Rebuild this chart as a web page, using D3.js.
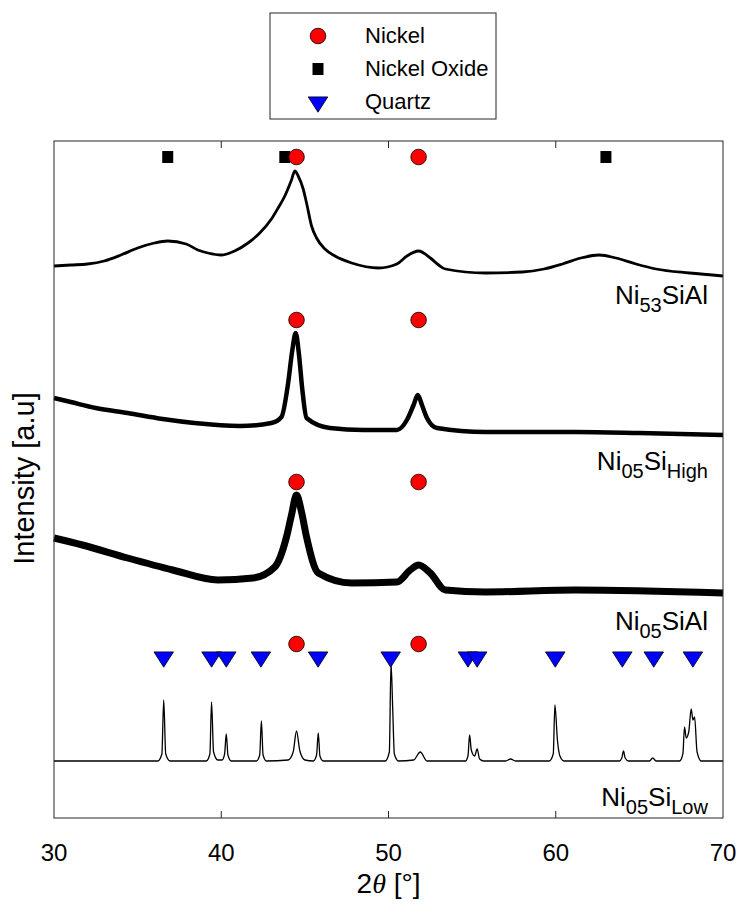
<!DOCTYPE html>
<html lang="en">
<head>
    <meta charset="UTF-8">
    <title>XRD patterns</title>
    <script src="https://cdnjs.cloudflare.com/ajax/libs/d3/7.8.5/d3.min.js"></script>
    <style>
        body { margin: 0; background: #fff; }
        text { font-family: "Liberation Sans", Arial, sans-serif; fill: #000; }
        .frame { fill: none; stroke: #262626; stroke-width: 1; }
        .tick-line { stroke: #262626; stroke-width: 1; }
        .pattern { fill: none; stroke: #000; stroke-linejoin: round; }
    </style>
</head>
<body>
<div id="chart"></div>
<script>
    // 2θ (deg), offset intensity (a.u.)
    const ni53SiAl = [
        [30, 552], [31.0, 553], [32.0, 554], [33.0, 557], [34.0, 563], [35.0, 570], [36.0, 575],
        [36.8, 577], [37.9, 574], [38.6, 568], [39.2, 565], [40.0, 563], [40.8, 567], [41.6, 575],
        [42.3, 585], [43.0, 599], [43.4, 610], [43.8, 622], [44.2, 638], [44.4, 647], [44.6, 642],
        [44.9, 629], [45.1, 615], [45.4, 592], [45.7, 580], [46.2, 569], [46.8, 562], [47.8, 555],
        [49.4, 550], [50.5, 554], [51.1, 562], [51.8, 567], [52.5, 560], [53.0, 553], [53.4, 549],
        [55.8, 545], [58.0, 546], [59.3, 549], [60.4, 554], [61.5, 560], [62.6, 563], [63.6, 560],
        [64.8, 554], [66.0, 549], [68.0, 545], [70, 542]
    ];
    const ni05SiHigh = [
        [30, 420], [31, 416], [32.5, 410], [34.4, 405], [36.5, 399], [38.4, 395], [41.1, 392],
        [43.0, 395], [43.6, 401], [44.0, 435], [44.25, 468], [44.45, 485], [44.65, 463],
        [44.85, 428], [45.1, 400], [46.5, 390], [48.5, 388], [50.5, 388], [51.1, 398], [51.5, 413],
        [51.75, 423], [52.0, 413], [52.3, 400], [52.9, 390], [55.8, 386], [61.2, 386], [65, 385],
        [70, 383]
    ];
    const ni05SiAl = [
        [30, 280], [31.7, 273], [34.4, 260], [37.1, 248], [39.8, 238], [41.9, 240], [43.2, 251],
        [43.9, 281], [44.2, 303], [44.5, 323], [44.8, 306], [45.1, 281], [45.8, 245], [47.8, 235],
        [50.5, 236], [51.3, 248], [51.8, 253], [52.5, 245], [53.4, 228], [55.8, 226], [61.2, 228],
        [70, 225]
    ];
    const ni05SiLow = [
        [30, 57], [36.2, 57], [36.45, 64], [36.56, 118], [36.68, 64], [36.95, 57],
        [39.1, 57], [39.32, 64], [39.42, 116], [39.54, 66], [39.8, 58],
        [40.05, 58], [40.2, 64], [40.3, 84], [40.4, 63], [40.6, 57],
        [42.1, 57], [42.3, 63], [42.4, 97], [42.5, 63], [42.7, 57],
        [44.0, 58], [44.3, 66], [44.5, 87], [44.7, 67], [45.0, 58],
        [45.5, 57], [45.7, 63], [45.8, 85], [45.9, 62], [46.1, 57],
        [49.8, 57], [50.05, 66], [50.15, 155], [50.25, 110], [50.35, 64], [50.6, 57],
        [51.5, 58], [51.9, 66], [52.3, 57],
        [54.6, 57], [54.75, 62], [54.85, 83], [54.95, 68], [55.15, 62], [55.3, 69], [55.45, 59], [55.7, 57],
        [57.0, 57], [57.3, 59], [57.6, 57],
        [59.6, 57], [59.85, 64], [59.95, 113], [60.1, 78], [60.25, 62], [60.5, 57],
        [63.8, 57], [63.95, 60], [64.05, 67], [64.15, 60], [64.35, 57],
        [65.6, 57], [65.8, 60], [66.0, 57],
        [67.4, 57], [67.6, 64], [67.7, 91], [67.8, 80], [67.95, 86], [68.1, 109], [68.2, 98],
        [68.3, 101], [68.45, 66], [68.7, 57], [70, 57]
    ];

    // reference peak positions
    const nickelPeaks = [44.5, 51.8];
    const nickelOxidePeaks = [36.8, 43.8, 63.0];
    const quartzPeaks = [36.56, 39.42, 40.3, 42.37, 45.79, 50.13, 54.75, 55.3, 59.97, 63.98, 65.86, 68.2];
    // marker rows (a.u.)
    const nickelRows = [661, 498, 336, 174];
    const nickelOxideRow = 661;
    const quartzRow = 161;

    const xTicks = [30, 40, 50, 60, 70];
    const sampleLabels = [
        { parts: [["Ni", 0], ["53", 1], ["SiAl", 0]], y: 514 },
        { parts: [["Ni", 0], ["05", 1], ["Si", 0], ["High", 1]], y: 348 },
        { parts: [["Ni", 0], ["05", 1], ["SiAl", 0]], y: 188 },
        { parts: [["Ni", 0], ["05", 1], ["Si", 0], ["Low", 1]], y: 12 }
    ];

    const W = 740, H = 905;
    const margin = { top: 141, right: 17, bottom: 87, left: 54 };
    const width = W - margin.left - margin.right;
    const height = H - margin.top - margin.bottom;

    const svg = d3.select("#chart").append("svg")
        .attr("width", W).attr("height", H);
    const g = svg.append("g").attr("transform", `translate(${margin.left},${margin.top})`);

    const x = d3.scaleLinear().domain([30, 70]).range([0, width]);
    const y = d3.scaleLinear().domain([0, height]).range([height, 0]);

    // patterns
    const line = d3.line().x(d => x(d[0])).y(d => y(d[1])).curve(d3.curveMonotoneX);
    const series = [[ni53SiAl, 2.8], [ni05SiHigh, 4.5], [ni05SiAl, 7], [ni05SiLow, 1.3]];
    series.forEach(([data, w]) => {
        g.append("path").attr("class", "pattern").attr("d", line(data)).attr("stroke-width", w);
    });

    // frame and ticks
    g.append("rect").attr("class", "frame").attr("width", width).attr("height", height);
    xTicks.slice(1, -1).forEach(t => {
        g.append("line").attr("class", "tick-line")
            .attr("x1", x(t)).attr("x2", x(t)).attr("y1", height).attr("y2", height - 7);
        g.append("line").attr("class", "tick-line")
            .attr("x1", x(t)).attr("x2", x(t)).attr("y1", 0).attr("y2", 7);
    });
    xTicks.forEach(t => {
        g.append("text")
            .attr("x", x(t)).attr("y", height + 43)
            .attr("text-anchor", "middle").attr("font-size", 24).text(t);
    });

    const xl = g.append("text")
        .attr("x", width / 2).attr("y", height + 75)
        .attr("text-anchor", "middle").attr("font-size", 28);
    xl.append("tspan").text("2");
    xl.append("tspan").attr("font-family", "Liberation Serif, serif").attr("font-style", "italic").text("θ");
    xl.append("tspan").text(" [°]");

    g.append("text")
        .attr("transform", `translate(${-20},${height / 2 - 1}) rotate(-90)`)
        .attr("text-anchor", "middle").attr("font-size", 29).text("Intensity [a.u]");

    // markers
    const tri = d3.symbol().type(d3.symbolTriangle).size(150);
    function circle(sel, cx, cy) {
        sel.append("circle").attr("cx", cx).attr("cy", cy).attr("r", 7.8)
            .attr("fill", "#ff0000").attr("stroke", "#000").attr("stroke-width", 0.8);
    }
    function square(sel, cx, cy) {
        sel.append("rect").attr("x", cx - 5.5).attr("y", cy - 6).attr("width", 11).attr("height", 12)
            .attr("fill", "#000");
    }
    function triangle(sel, cx, cy) {
        sel.append("path").attr("d", tri())
            .attr("transform", `translate(${cx},${cy}) rotate(180) scale(1.05,0.95)`)
            .attr("fill", "#0000ff").attr("stroke", "#000").attr("stroke-width", 0.8);
    }

    nickelOxidePeaks.forEach(p => square(g, x(p), y(nickelOxideRow)));
    quartzPeaks.forEach(p => triangle(g, x(p), y(quartzRow)));
    nickelRows.forEach(r => nickelPeaks.forEach(p => circle(g, x(p), y(r))));

    // sample labels
    sampleLabels.forEach(l => {
        const t = g.append("text")
            .attr("x", x(69.1)).attr("y", y(l.y))
            .attr("text-anchor", "end").attr("font-size", 26);
        let low = 0;
        l.parts.forEach(([s, sub]) => {
            const ts = t.append("tspan").text(s);
            if (sub && !low) { ts.attr("dy", 8).attr("font-size", 20); low = 1; }
            else if (sub) { ts.attr("font-size", 20); }
            else if (low) { ts.attr("dy", -8); low = 0; }
        });
    });

    // legend
    const legendItems = [["Nickel", circle], ["Nickel Oxide", square], ["Quartz", triangle]];
    const lg = svg.append("g").attr("transform", "translate(270,13)");
    lg.append("rect").attr("width", 226).attr("height", 106)
        .attr("fill", "#fff").attr("stroke", "#262626").attr("stroke-width", 1);
    legendItems.forEach(([name, draw], i) => {
        const cy = 23 + i * 33;
        draw(lg, 48, cy);
        lg.append("text")
            .attr("x", 95).attr("y", cy + 7)
            .attr("font-size", 22).text(name);
    });
</script>
</body>
</html>
